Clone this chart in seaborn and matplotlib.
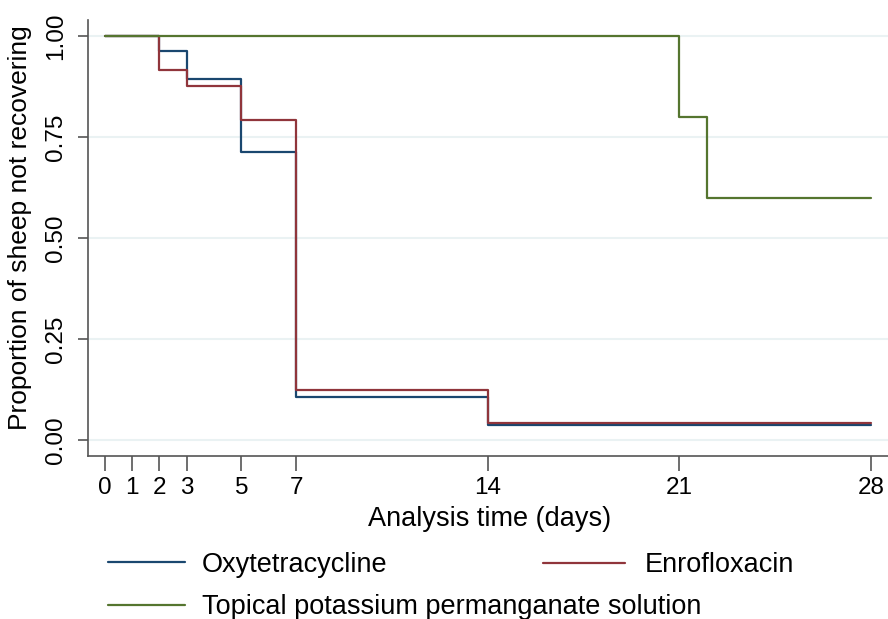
import pandas as pd
import matplotlib.pyplot as plt
import seaborn as sns
from matplotlib.lines import Line2D

# Kaplan-Meier step values
groups = ['Oxytetracycline', 'Enrofloxacin', 'Topical potassium permanganate solution']
colors = ['#1a476f', '#90353b', '#55752f']

days_oxy = [0, 2, 3, 5, 7, 14, 28]
surv_oxy = [1.0, 0.964, 0.893, 0.714, 0.107, 0.036, 0.036]

days_enro = [0, 2, 3, 5, 7, 14, 28]
surv_enro = [1.0, 0.917, 0.875, 0.792, 0.125, 0.042, 0.042]

days_kmno = [0, 21, 22, 28]
surv_kmno = [1.0, 0.80, 0.60, 0.60]

x_ticks = [0, 1, 2, 3, 5, 7, 14, 21, 28]
y_ticks = [0.0, 0.25, 0.50, 0.75, 1.0]

frames = []
for name, d, s in zip(groups, [days_oxy, days_enro, days_kmno], [surv_oxy, surv_enro, surv_kmno]):
    frames.append(pd.DataFrame({'time': d, 'surv': s, 'group': name}))
df = pd.concat(frames, ignore_index=True)

sns.set_theme(style='white')
plt.rcParams['font.family'] = ['Liberation Sans', 'DejaVu Sans']
plt.rcParams['text.color'] = 'black'
plt.rcParams['axes.labelcolor'] = 'black'

fig = plt.figure(figsize=(8.88, 6.19), dpi=100)
ax = fig.add_axes([88 / 888, 1 - 456 / 619, 1 - 88 / 888, (456 - 20) / 619])

sns.lineplot(data=df, x='time', y='surv', hue='group', hue_order=groups,
             palette=colors, drawstyle='steps-post', estimator=None,
             linewidth=1.6, legend=False, ax=ax)

ax.set_xlim(-0.607, 28.63)
ax.set_ylim(-0.0396, 1.0396)
ax.set_xticks(x_ticks)
ax.set_xticklabels([str(t) for t in x_ticks])
ax.set_yticks(y_ticks)
ax.set_yticklabels(['%.2f' % t for t in y_ticks], rotation=90, va='center')

ax.yaxis.grid(True, color='#eaf2f3', linewidth=1.5)
ax.xaxis.grid(False)
ax.set_axisbelow(True)

for side in ['top', 'right']:
    ax.spines[side].set_visible(False)
for side in ['left', 'bottom']:
    ax.spines[side].set_color('#555555')
    ax.spines[side].set_linewidth(1.2)

ax.tick_params(axis='x', bottom=True, length=11, width=1.2, color='#555555',
               pad=4, labelsize=17.5, labelcolor='black')
ax.tick_params(axis='y', left=True, length=7, width=1.2, color='#555555',
               pad=8, labelsize=17.5, labelcolor='black')

ax.set_xlabel('Analysis time (days)', fontsize=19.5)
ax.set_ylabel('Proportion of sheep not recovering', fontsize=19)
ax.xaxis.set_label_coords(0.5 + (490 - 488) / 800, (456 - 506) / 436)
ax.yaxis.set_label_coords((32 - 88) / 800, (456 - 228) / 436)

h = [Line2D([], [], color=c, linewidth=1.6) for c in colors]
fig.legend([h[0], h[2]], [groups[0], groups[2]], loc='center left',
           bbox_to_anchor=(108 / 888, 1 - 586 / 619), frameon=False,
           fontsize=19.5, handlelength=2.84, handletextpad=0.63,
           labelspacing=0.60, borderpad=0, borderaxespad=0)
fig.legend([h[1]], [groups[1]], loc='center left',
           bbox_to_anchor=(543 / 888, 1 - 565 / 619), frameon=False,
           fontsize=19.5, handlelength=3.03, handletextpad=0.72,
           borderpad=0, borderaxespad=0)

fig.savefig('out.png', dpi=100)
